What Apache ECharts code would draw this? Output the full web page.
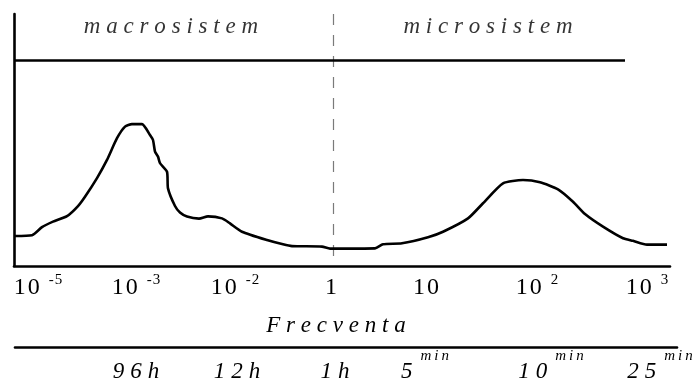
<!DOCTYPE html>
<html>
<head>
<meta charset="utf-8">
<script src="https://cdn.jsdelivr.net/npm/echarts@6/dist/echarts.min.js"></script>
<style>
  html, body { margin: 0; padding: 0; background: #fff; }
  #c { width: 697px; height: 380px; }
</style>
</head>
<body>
<div id="c"></div>
<script>
// Frequency scale is drawn in decade steps; 1 Hz sits at position 3.
const tickBase = ['10', '10', '10', '1', '10', '10', '10'];
const tickExp  = ['-5', '-3', '-2', '', '', '2', '3'];
const tickPos  = [0.05, 1.03, 2.02, 2.98, 3.93, 5.04, 6.14];

// Matching period scale under the frequency axis
const periodBase = ['96h', '12h', '1h', '5', '10', '25'];
const periodSup  = ['', '', '', 'min', 'min', 'min'];
const periodPos  = [1.03, 2.04, 3.02, 3.92, 5.18, 6.27];

// Spectral curve (position on the decade scale, relative amplitude)
const curveX = [-0.18, -0.01, 0.09, 0.2, 0.34, 0.45, 0.52, 0.64, 0.74, 0.84, 0.92, 0.99, 1.09,
  1.17, 1.2, 1.22, 1.25, 1.27, 1.34, 1.35, 1.42, 1.47, 1.54, 1.66, 1.75, 1.89, 1.97, 2.09,
  2.34, 2.5, 2.59, 2.89, 2.97, 3.42, 3.5, 3.69, 3.95, 4.1, 4.35, 4.5, 4.7, 4.9, 5.07, 5.25,
  5.4, 5.52, 5.7, 5.9, 6.0, 6.14, 6.34];
const curveY = [11.9, 12.2, 15.4, 17.6, 19.8, 23.8, 27.5, 34.9, 42.1, 50.7, 55.3, 56.3, 56.3,
  52.0, 50.0, 45.4, 43.4, 40.8, 37.4, 30.8, 23.8, 21.2, 19.6, 18.8, 19.7, 18.9, 16.9, 13.6,
  10.3, 8.6, 7.9, 7.7, 6.9, 7.0, 8.6, 9.0, 11.4, 13.6, 18.9, 24.9, 32.8, 34.1, 33.2, 30.4,
  25.5, 20.6, 15.6, 11.0, 10.0, 8.5, 8.5];

// Region headings and the boundary between them
const regionNames = ['macrosistem', 'microsistem'];
const regionX = [1.38, 4.55];
const regionLevel = 95;
const headerLevel = 81.7;
const headerEnd = 5.92;
const boundaryX = 3;

const axisTitle = 'Frecventa';

const SERIF = 'Liberation Serif';
const X_MIN = -0.19, X_MAX = 6.37;
const P_MIN = -0.18, P_MAX = 6.44;
const Y_MAX = 100;

function tok(style, ch) { return '{' + style + '|' + ch + '}'; }
function spaced(text, style, lastStyle) {
  const chars = Array.from(text);
  return chars.map((c, i) => tok(i === chars.length - 1 ? lastStyle : style, c)).join('');
}
function findIdx(arr, v) { return arr.findIndex(p => Math.abs(p - v) < 1e-6); }

const tickRich = {
  d:  { fontFamily: SERIF, fontSize: 24, lineHeight: 24, color: '#000', verticalAlign: 'bottom', padding: [0, 2, 0, 0] },
  dl: { fontFamily: SERIF, fontSize: 24, lineHeight: 24, color: '#000', verticalAlign: 'bottom' },
  g:  { fontSize: 1, lineHeight: 1, width: 9 },
  s:  { fontFamily: SERIF, fontSize: 15, lineHeight: 15, color: '#000', verticalAlign: 'top', padding: [0, 1, 0, 0] },
  sl: { fontFamily: SERIF, fontSize: 15, lineHeight: 15, color: '#000', verticalAlign: 'top' },
  z:  { fontSize: 1, lineHeight: 27, width: 0 }
};
const periodRich = {
  p:  { fontFamily: SERIF, fontStyle: 'italic', fontSize: 23, lineHeight: 23, color: '#000', verticalAlign: 'bottom', padding: [0, 6, 0, 0] },
  pl: { fontFamily: SERIF, fontStyle: 'italic', fontSize: 23, lineHeight: 23, color: '#000', verticalAlign: 'bottom' },
  g:  { fontSize: 1, lineHeight: 1, width: 8 },
  m:  { fontFamily: SERIF, fontStyle: 'italic', fontSize: 15, lineHeight: 15, color: '#000', verticalAlign: 'top', padding: [0, 3, 0, 0] },
  ml: { fontFamily: SERIF, fontStyle: 'italic', fontSize: 15, lineHeight: 15, color: '#000', verticalAlign: 'top' },
  z:  { fontSize: 1, lineHeight: 34, width: 0 }
};
const wordRich = {
  w:  { fontFamily: SERIF, fontStyle: 'italic', fontSize: 23, lineHeight: 23, color: '#000', padding: [0, 5.8, 0, 0] },
  wl: { fontFamily: SERIF, fontStyle: 'italic', fontSize: 23, lineHeight: 23, color: '#000' }
};

const chart = echarts.init(document.getElementById('c'), null, { renderer: 'canvas' });

chart.setOption({
  animation: false,
  backgroundColor: '#fff',
  grid: [
    { left: 14, right: 27, top: 14, bottom: 114, containLabel: false, outerBoundsMode: 'none' },
    { left: 15, right: 20, top: 300, bottom: 33, containLabel: false, outerBoundsMode: 'none' }
  ],
  xAxis: [
    {
      type: 'value', gridIndex: 0, min: X_MIN, max: X_MAX,
      axisLine: { show: true, onZero: false, lineStyle: { color: '#000', width: 2.6 } },
      axisTick: { show: false },
      splitLine: { show: false },
      axisLabel: {
        show: true, margin: 7, customValues: tickPos, hideOverlap: false,
        showMinLabel: true, showMaxLabel: true,
        formatter: function (v) {
          const i = findIdx(tickPos, v);
          if (i < 0) return '';
          let s = tok('z', '\u200b') + spaced(tickBase[i], 'd', 'dl');
          if (tickExp[i]) s += tok('g', '\u200b') + spaced(tickExp[i], 's', 'sl');
          return s;
        },
        rich: tickRich
      },
      name: spaced(axisTitle, 'w', 'wl'),
      nameLocation: 'middle', nameGap: 48,
      nameTextStyle: { rich: wordRich, padding: [0, 12, 0, 0] }
    },
    {
      type: 'value', gridIndex: 1, min: P_MIN, max: P_MAX,
      axisLine: { show: true, onZero: false, lineStyle: { color: '#000', width: 2.6 } },
      axisTick: { show: false },
      splitLine: { show: false },
      axisLabel: {
        show: true, margin: 2, customValues: periodPos, hideOverlap: false,
        showMinLabel: true, showMaxLabel: true,
        formatter: function (v) {
          const i = findIdx(periodPos, v);
          if (i < 0) return '';
          let s = tok('z', '\u200b') + spaced(periodBase[i], 'p', 'pl');
          if (periodSup[i]) s += tok('g', '\u200b') + spaced(periodSup[i], 'm', 'ml');
          return s;
        },
        rich: periodRich
      }
    }
  ],
  yAxis: [
    {
      type: 'value', gridIndex: 0, min: 0, max: Y_MAX,
      axisLine: { show: true, onZero: false, lineStyle: { color: '#000', width: 2.6 } },
      axisTick: { show: false }, axisLabel: { show: false }, splitLine: { show: false }
    },
    { type: 'value', gridIndex: 1, show: false, min: 0, max: 1 }
  ],
  series: [
    {
      type: 'line',
      xAxisIndex: 0, yAxisIndex: 0,
      data: curveX.map((x, i) => [x, curveY[i]]),
      symbol: 'none',
      smooth: 0.2,
      lineStyle: { color: '#000', width: 2.6 },
      z: 5,
      markLine: {
        silent: true,
        symbol: ['none', 'none'],
        label: { show: false },
        data: [
          [
            { coord: [boundaryX, Y_MAX], lineStyle: { color: '#7a7a7a', width: 1.2, type: [11, 10] } },
            { coord: [boundaryX, 0] }
          ],
          [
            { coord: [X_MIN, headerLevel], lineStyle: { color: '#000', width: 2.6, type: 'solid' } },
            { coord: [headerEnd, headerLevel] }
          ]
        ]
      }
    },
    {
      type: 'scatter',
      xAxisIndex: 0, yAxisIndex: 0,
      data: regionNames.map((n, i) => ({ value: [regionX[i], regionLevel], name: n })),
      symbolSize: 1,
      itemStyle: { color: 'rgba(0,0,0,0)' },
      silent: true,
      label: {
        show: true, position: 'inside',
        formatter: p => spaced(p.name, 'w', 'wl'),
        rich: wordRich
      }
    }
  ]
});
</script>
</body>
</html>
